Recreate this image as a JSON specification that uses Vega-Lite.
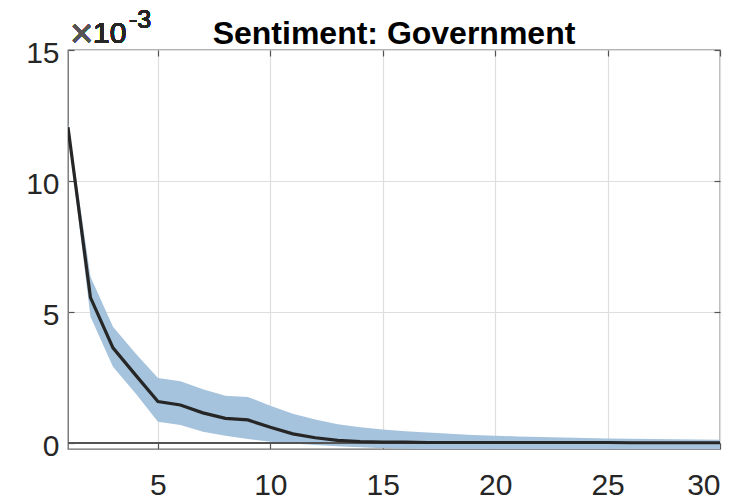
{
  "$schema": "https://vega.github.io/schema/vega-lite/v6.json",
  "width": 652,
  "height": 399,
  "autosize": {"type": "none"},
  "padding": {"left": 68, "top": 50, "right": 24, "bottom": 55},
  "background": "white",
  "title": {
    "text": "Sentiment: Government",
    "font": "Liberation Sans",
    "fontSize": 32,
    "fontWeight": "bold",
    "color": "#000000",
    "anchor": "middle",
    "frame": "group",
    "baseline": "alphabetic",
    "offset": 0,
    "dy": 68
  },
  "config": {
    "font": "Liberation Sans",
    "view": {"stroke": "#6a6a6a", "strokeWidth": 1.3}
  },
  "data": {
    "values": [
      {"h": 1, "m": 0.01205, "lo": 0.01185, "hi": 0.01222},
      {"h": 2, "m": 0.00555, "lo": 0.00482, "hi": 0.00635},
      {"h": 3, "m": 0.00363, "lo": 0.00291, "hi": 0.00444},
      {"h": 4, "m": 0.0026, "lo": 0.0019, "hi": 0.00343},
      {"h": 5, "m": 0.00158, "lo": 0.00081, "hi": 0.00248},
      {"h": 6, "m": 0.00145, "lo": 0.00069, "hi": 0.00236},
      {"h": 7, "m": 0.00115, "lo": 0.00043, "hi": 0.00205},
      {"h": 8, "m": 0.00094, "lo": 0.00028, "hi": 0.0018},
      {"h": 9, "m": 0.00088, "lo": 0.00015, "hi": 0.00176},
      {"h": 10, "m": 0.0006, "lo": 0.00005, "hi": 0.00142},
      {"h": 11, "m": 0.00035, "lo": -0.00002, "hi": 0.00112},
      {"h": 12, "m": 0.0002, "lo": -0.00008, "hi": 0.0009},
      {"h": 13, "m": 0.0001, "lo": -0.00012, "hi": 0.00072},
      {"h": 14, "m": 0.00005, "lo": -0.00016, "hi": 0.0006},
      {"h": 15, "m": 0.00003, "lo": -0.0002, "hi": 0.00052},
      {"h": 16, "m": 0.00003, "lo": -0.00022, "hi": 0.00045},
      {"h": 17, "m": 0.00002, "lo": -0.00024, "hi": 0.0004},
      {"h": 18, "m": 0.00002, "lo": -0.00025, "hi": 0.00035},
      {"h": 19, "m": 0.00002, "lo": -0.00025, "hi": 0.00031},
      {"h": 20, "m": 0.00002, "lo": -0.00025, "hi": 0.00028},
      {"h": 21, "m": 0.00002, "lo": -0.00025, "hi": 0.00025},
      {"h": 22, "m": 0.00002, "lo": -0.00025, "hi": 0.00023},
      {"h": 23, "m": 0.00002, "lo": -0.00025, "hi": 0.00021},
      {"h": 24, "m": 0.00002, "lo": -0.00025, "hi": 0.00019},
      {"h": 25, "m": 0.00002, "lo": -0.00025, "hi": 0.00017},
      {"h": 26, "m": 0.00001, "lo": -0.00025, "hi": 0.00016},
      {"h": 27, "m": 0.00001, "lo": -0.00025, "hi": 0.00015},
      {"h": 28, "m": 0.00001, "lo": -0.00025, "hi": 0.00014},
      {"h": 29, "m": 0.00001, "lo": -0.00025, "hi": 0.00013},
      {"h": 30, "m": 0.00001, "lo": -0.00025, "hi": 0.00012}
    ]
  },
  "layer": [
    {
      "mark": {"type": "area", "color": "#a5c3dc", "opacity": 1, "clip": true},
      "encoding": {
        "x": {
          "field": "h", "type": "quantitative",
          "scale": {"domain": [1, 30], "nice": false, "zero": false},
          "axis": {
            "orient": "bottom", "title": null, "values": [5, 10, 15, 20, 25, 30],
            "domain": false, "grid": true, "gridColor": "#dedede", "gridWidth": 1.2,
            "ticks": true, "tickSize": -6, "tickColor": "#555555", "tickWidth": 1.2,
            "labelFontSize": 30, "labelColor": "#262626", "labelPadding": 27,
            "labelFont": "Liberation Sans"
          }
        },
        "y": {
          "field": "lo", "type": "quantitative",
          "scale": {"domain": [-0.000229, 0.015], "nice": false, "zero": false},
          "axis": {
            "orient": "left", "title": null, "values": [0, 0.005, 0.01, 0.015],
            "labelExpr": "format(round(datum.value*1000), 'd')",
            "domain": false, "grid": true, "gridColor": "#dedede", "gridWidth": 1.2,
            "ticks": true, "tickSize": -6, "tickColor": "#555555", "tickWidth": 1.2,
            "labelFontSize": 30, "labelColor": "#262626", "labelPadding": 15,
            "labelFont": "Liberation Sans", "labelOffset": 3
          }
        },
        "y2": {"field": "hi"}
      }
    },
    {
      "mark": {"type": "rule", "color": "#555555", "strokeWidth": 1.2},
      "encoding": {"y": {"datum": 0, "type": "quantitative", "axis": null}}
    },
    {
      "mark": {"type": "line", "color": "#262626", "strokeWidth": 3.2, "clip": true},
      "encoding": {
        "x": {
          "field": "h", "type": "quantitative",
          "axis": {
            "orient": "top", "title": null, "values": [5, 10, 15, 20, 25, 30],
            "domain": false, "grid": false, "labels": false,
            "ticks": true, "tickSize": -6, "tickColor": "#555555", "tickWidth": 1.2
          }
        },
        "y": {
          "field": "m", "type": "quantitative",
          "axis": {
            "orient": "right", "title": null, "values": [0, 0.005, 0.01, 0.015],
            "domain": false, "grid": false, "labels": false,
            "ticks": true, "tickSize": -6, "tickColor": "#555555", "tickWidth": 1.2
          }
        }
      }
    },
    {
      "mark": {"type": "text", "text": "×", "font": "Liberation Sans", "fontSize": 40, "fontWeight": 300, "color": "#555555", "align": "left", "baseline": "alphabetic", "dx": 2, "dy": -3},
      "encoding": {
        "x": {"datum": 1, "type": "quantitative", "axis": null},
        "y": {"datum": 0.015, "type": "quantitative", "axis": null}
      }
    },
    {
      "mark": {"type": "text", "text": "10", "font": "Liberation Sans", "fontSize": 30, "color": "#262626", "align": "left", "baseline": "alphabetic", "dx": 25, "dy": -7},
      "encoding": {
        "x": {"datum": 1, "type": "quantitative", "axis": null},
        "y": {"datum": 0.015, "type": "quantitative", "axis": null}
      }
    },
    {
      "mark": {"type": "text", "text": "-3", "font": "Liberation Sans", "fontSize": 25, "color": "#262626", "align": "left", "baseline": "alphabetic", "dx": 61, "dy": -22},
      "encoding": {
        "x": {"datum": 1, "type": "quantitative", "axis": null},
        "y": {"datum": 0.015, "type": "quantitative", "axis": null}
      }
    }
  ],
  "resolve": {"axis": {"x": "independent", "y": "independent"}}
}
